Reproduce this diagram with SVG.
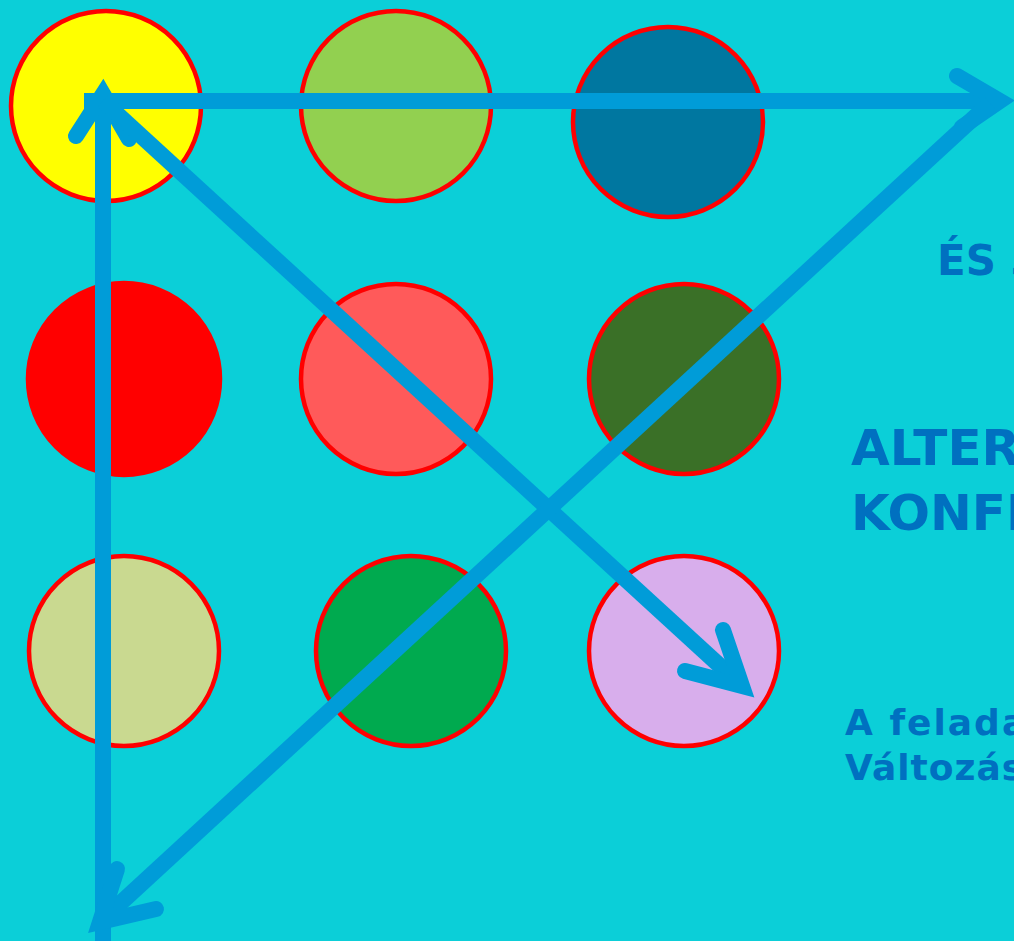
<svg xmlns="http://www.w3.org/2000/svg" width="1014" height="941" viewBox="0 0 1014 941">
<style>
.c{stroke:#FF0000;stroke-width:4.5}
.a{fill:none;stroke:#009CD8;stroke-width:16;stroke-linecap:round;stroke-linejoin:miter;stroke-miterlimit:10}
.l{fill:none;stroke:#009CD8;stroke-width:16;stroke-linecap:butt}
.t{fill:#0070C0;font-family:"Comic Sans MS","DejaVu Sans",sans-serif;font-weight:bold}
</style>
<rect width="1014" height="941" fill="#0BCFD8"/>
<g id="n1"><circle class="c" cx="106" cy="106" r="95" fill="#FFFF00"/></g>
<g id="n2"><circle class="c" cx="396" cy="106" r="95" fill="#92D050"/></g>
<g id="n3"><circle class="c" cx="668" cy="122" r="95" fill="#0077A0"/></g>
<g id="n4"><circle class="c" cx="124" cy="379" r="96" fill="#FF0000"/></g>
<g id="n5"><circle class="c" cx="396" cy="379" r="95" fill="#FF5A5A"/></g>
<g id="n6"><circle class="c" cx="684" cy="379" r="95" fill="#3A7027"/></g>
<g id="n7"><circle class="c" cx="124" cy="651" r="95" fill="#C9D990"/></g>
<g id="n8"><circle class="c" cx="411" cy="651" r="95" fill="#00AA4F"/></g>
<g id="n9"><circle class="c" cx="684" cy="651" r="95" fill="#D8AEEC"/></g>
<g id="connectors">
<line class="l" x1="103" y1="941" x2="103" y2="96"/>
<polyline class="a" points="76,136 103,94 129,139"/>
<line class="l" x1="84" y1="101" x2="1000" y2="101"/>
<polyline class="a" points="957,76 1000,101 962,127"/>
<line class="l" x1="103" y1="101" x2="742" y2="686"/>
<polyline class="a" points="723,630 742,686 685,671"/>
<line class="l" x1="100" y1="922" x2="990" y2="103"/>
<polyline class="a" points="117,869 100,922 156,909"/>
</g>
<g id="texts">
<text class="t" x="937" y="275" font-size="42">ÉS 3</text>
<text class="t" x="851" y="465" font-size="50">ALTER</text>
<text class="t" x="851" y="530" font-size="50">KONFE</text>
<text class="t" x="845" y="735" font-size="36" letter-spacing="2">A felada</text>
<text class="t" x="845" y="780" font-size="36" letter-spacing="1">Változás</text>
</g>
</svg>
